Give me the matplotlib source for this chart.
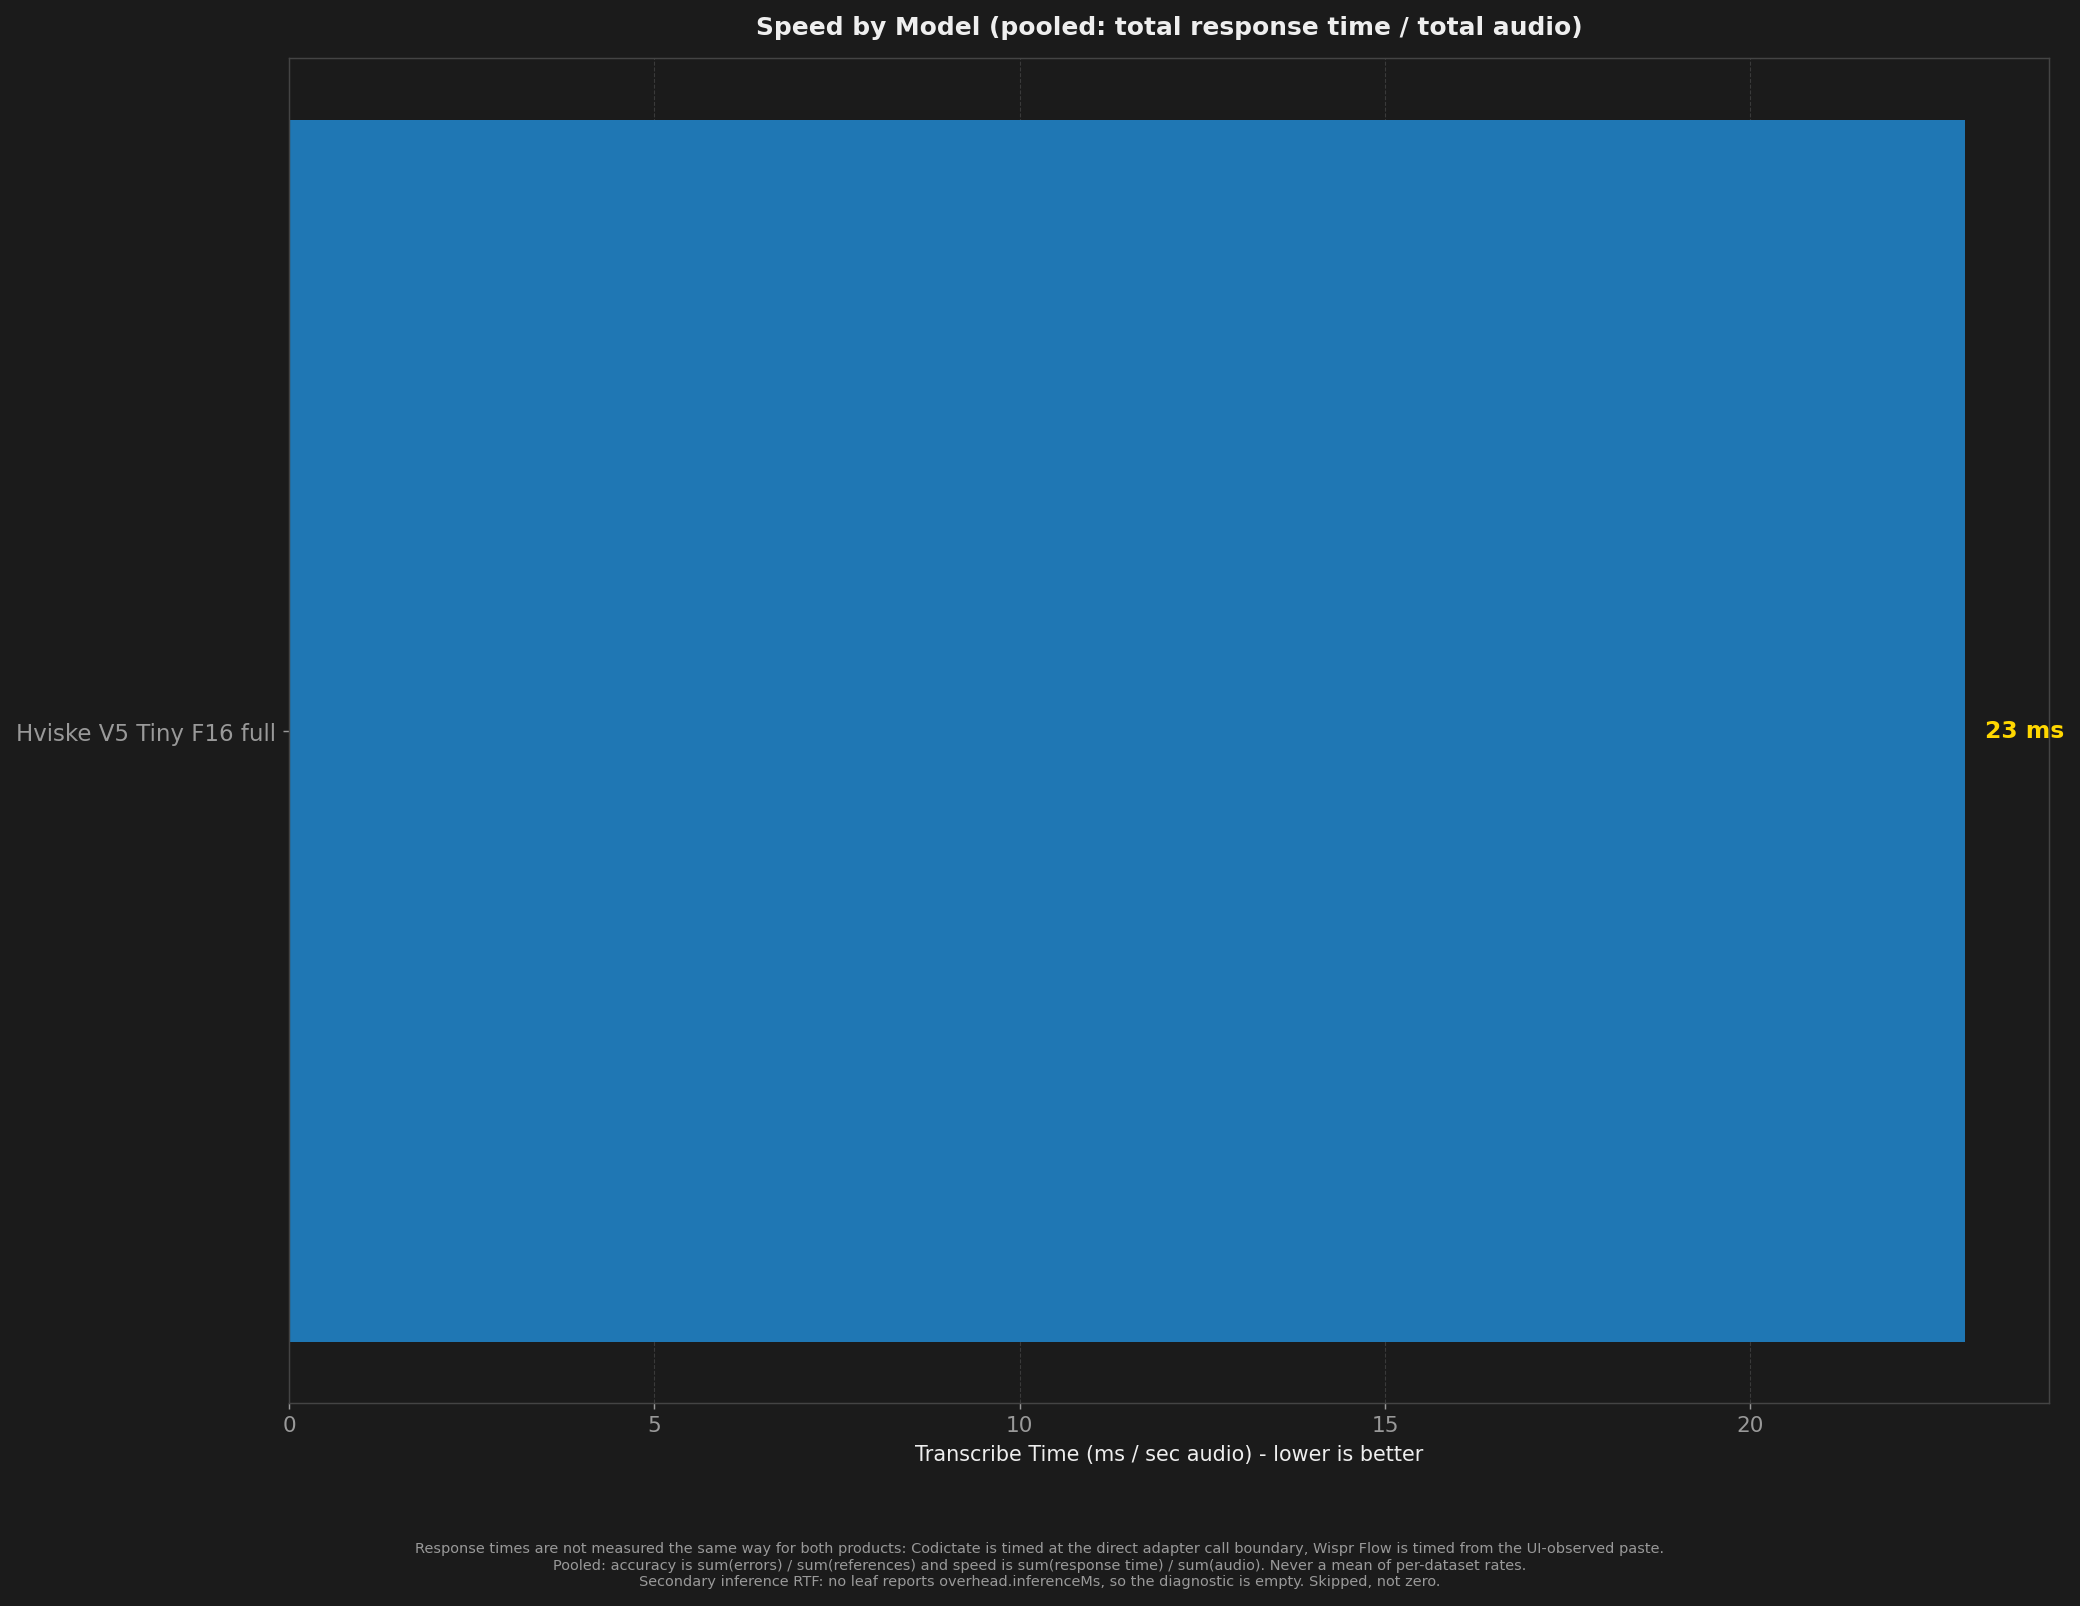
import matplotlib
matplotlib.use("Agg")
import matplotlib.pyplot as plt

models = ["Hviske V5 Tiny F16 full"]
ms_per_sec = [22.94]

bg = "#1b1b1b"
bar_color = "#1f77b4"

notes = [
    "Response times are not measured the same way for both products: Codictate is timed at the direct adapter call boundary, Wispr Flow is timed from the UI-observed paste.",
    "Pooled: accuracy is sum(errors) / sum(references) and speed is sum(response time) / sum(audio). Never a mean of per-dataset rates.",
    "Secondary inference RTF: no leaf reports overhead.inferenceMs, so the diagnostic is empty. Skipped, not zero.",
]

fig, ax = plt.subplots(figsize=(16, 12.3615), dpi=130)
fig.patch.set_facecolor(bg)
ax.set_facecolor(bg)

ax.barh(models, ms_per_sec, color=bar_color, height=0.8, zorder=2)
ax.set_xlim(0, max(ms_per_sec) * 1.05)

for i, v in enumerate(ms_per_sec):
    ax.text(v + max(ms_per_sec) * 0.012, i, f"{v:.0f} ms", va="center", ha="left",
            color="#ffd700", fontsize=13, fontweight="bold")

ax.set_title("Speed by Model (pooled: total response time / total audio)",
             color="#eeeeee", fontsize=13.8, fontweight="bold", pad=13.5)
ax.set_xlabel("Transcribe Time (ms / sec audio) - lower is better", color="#eeeeee",
              fontsize=11.5, labelpad=5)
ax.tick_params(axis="x", colors="#999999", labelsize=12)
ax.tick_params(axis="y", colors="#999999", labelsize=12.7)
ax.xaxis.grid(True, linestyle="--", color="#3a3a3a", linewidth=0.6, zorder=0)
for s in ax.spines.values():
    s.set_color("#444444")

fig.text(0.5, 0.011, "\n".join(notes), ha="center", va="bottom", color="#999999",
         fontsize=8, linespacing=1.25)

fig.subplots_adjust(left=0.139, right=0.985, top=0.963, bottom=0.1265)
fig.savefig("out.png", facecolor=bg)
